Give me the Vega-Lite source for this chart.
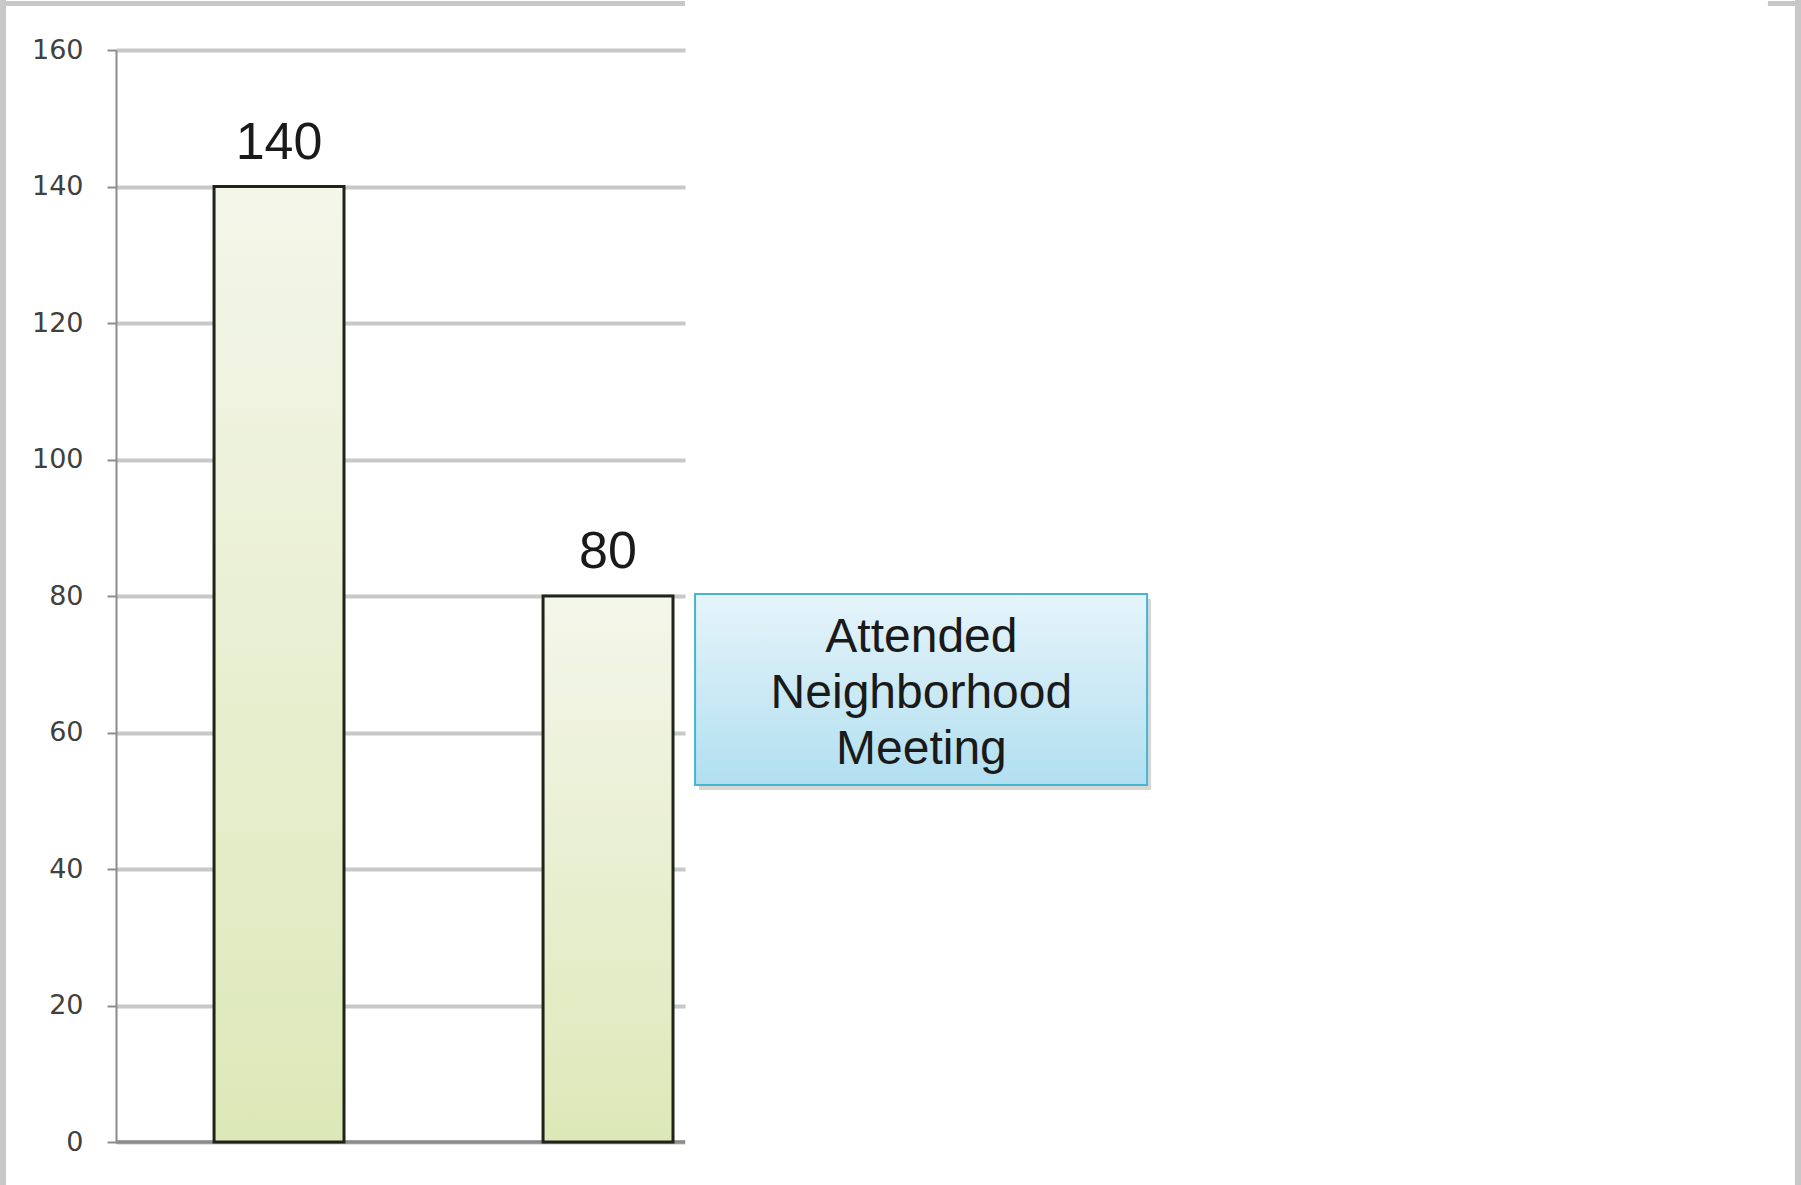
{
  "$schema": "https://vega.github.io/schema/vega-lite/v6.json",
  "width": 569,
  "height": 1092,
  "autosize": {"type": "none"},
  "padding": {"left": 116, "top": 50, "right": 1116, "bottom": 43},
  "background": "white",
  "config": {
    "view": {"stroke": null}
  },
  "datasets": {
    "bars": [
      {"category": "Total", "value": 140},
      {"category": "Attended Neighborhood Meeting", "value": 80}
    ],
    "note": [
      {"label": "Attended Neighborhood Meeting"}
    ]
  },
  "resolve": {"scale": {"x": "independent"}},
  "layer": [
    {
      "data": {"name": "bars"},
      "encoding": {
        "x": {
          "field": "category",
          "type": "nominal",
          "sort": null,
          "axis": null,
          "scale": {
            "domain": ["Total", "Attended Neighborhood Meeting"],
            "paddingInner": 0.605,
            "paddingOuter": 0.16725,
            "align": 0.891
          }
        },
        "y": {
          "field": "value",
          "type": "quantitative",
          "scale": {"domain": [0, 160], "nice": false},
          "axis": {
            "values": [0, 20, 40, 60, 80, 100, 120, 140, 160],
            "grid": true,
            "gridColor": "#c8c8c8",
            "gridWidth": 4,
            "domainColor": "#8c8c8c",
            "domainWidth": 2,
            "tickColor": "#8c8c8c",
            "tickSize": 9,
            "tickWidth": 2,
            "labelFont": "DejaVu Sans",
            "labelFontSize": 27,
            "labelColor": "#404040",
            "labelPadding": 24,
            "title": null
          }
        }
      },
      "layer": [
        {
          "mark": {"type": "rule", "color": "#8c8c8c", "strokeWidth": 3},
          "encoding": {"x": null, "y": {"datum": 0}}
        },
        {
          "mark": {
            "type": "bar",
            "fill": {
              "gradient": "linear",
              "x1": 0, "y1": 0, "x2": 0, "y2": 1,
              "stops": [
                {"offset": 0, "color": "#f4f6ea"},
                {"offset": 1, "color": "#dde8b8"}
              ]
            },
            "stroke": "#1e2418",
            "strokeWidth": 3
          }
        },
        {
          "mark": {
            "type": "text",
            "font": "Liberation Sans",
            "fontSize": 52,
            "color": "#1a1a1a",
            "baseline": "alphabetic",
            "align": "center",
            "dy": -28
          },
          "encoding": {"text": {"field": "value", "type": "quantitative"}}
        }
      ]
    },
    {
      "data": {"name": "note"},
      "layer": [
        {
          "mark": {"type": "rule", "color": "#c8c8c8", "strokeWidth": 6},
          "encoding": {
            "x": {"datum": -0.3435, "type": "quantitative", "axis": null, "scale": {"domain": [0, 1.7295], "nice": false, "zero": false}},
            "y": {"datum": 167.4},
            "y2": {"datum": -6.3}
          }
        },
        {
          "mark": {"type": "rule", "color": "#c8c8c8", "strokeWidth": 5},
          "encoding": {
            "x": {"datum": -0.352, "type": "quantitative"},
            "x2": {"datum": 1.7295},
            "y": {"datum": 166.8}
          }
        },
        {
          "mark": {"type": "rule", "color": "#c8c8c8", "strokeWidth": 6},
          "encoding": {
            "x": {"datum": 5.1125, "type": "quantitative"},
            "y": {"datum": 167.4},
            "y2": {"datum": -6.3}
          }
        },
        {
          "mark": {"type": "rule", "color": "#c8c8c8", "strokeWidth": 5},
          "encoding": {
            "x": {"datum": 5.021, "type": "quantitative"},
            "x2": {"datum": 5.125},
            "y": {"datum": 166.8}
          }
        },
        {
          "mark": {"type": "rect", "color": "#7a7a7a", "opacity": 0.3, "xOffset": 4, "x2Offset": 4, "yOffset": 5, "y2Offset": 5},
          "encoding": {
            "x": {"datum": 1.760, "type": "quantitative"},
            "x2": {"datum": 3.134},
            "y": {"datum": 80.3},
            "y2": {"datum": 52.3}
          }
        },
        {
          "mark": {
            "type": "rect",
            "fill": {
              "gradient": "linear",
              "x1": 0, "y1": 0, "x2": 0, "y2": 1,
              "stops": [
                {"offset": 0, "color": "#e6f4fa"},
                {"offset": 1, "color": "#b1dff0"}
              ]
            },
            "stroke": "#47b5d0",
            "strokeWidth": 2
          },
          "encoding": {
            "x": {"datum": 1.760, "type": "quantitative"},
            "x2": {"datum": 3.134},
            "y": {"datum": 80.3},
            "y2": {"datum": 52.3}
          }
        },
        {
          "mark": {
            "type": "text",
            "font": "Liberation Sans",
            "fontSize": 48,
            "color": "#1a1a1a",
            "align": "center",
            "baseline": "alphabetic",
            "lineBreak": " ",
            "lineHeight": 56
          },
          "encoding": {
            "x": {"datum": 2.448, "type": "quantitative"},
            "y": {"datum": 71.84},
            "text": {"field": "label", "type": "nominal"}
          }
        }
      ]
    }
  ]
}
